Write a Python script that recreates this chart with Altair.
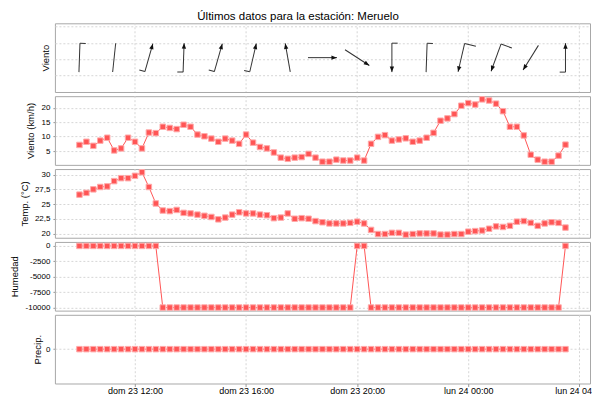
import altair as alt
import pandas as pd

# ---------------- data ----------------
times = pd.date_range("2023-07-23 10:00", "2023-07-24 03:30", freq="15min")
time_str = list(times.strftime("%Y-%m-%dT%H:%M:%S"))

wind_kmh = [7.1, 8.2, 6.8, 8.6, 9.6, 5.2, 5.9, 9.6, 8.2, 5.9,
            11.4, 11.2, 13.4, 13.0, 12.6, 14.1, 13.4, 10.7, 10.1, 9.3,
            8.2, 9.3, 8.6, 7.5, 10.7, 7.9, 6.4, 5.9, 4.5, 2.7,
            2.3, 2.7, 2.9, 4.0, 2.7, 1.3, 1.3, 2.0, 1.7, 1.7,
            2.7, 1.7, 7.5, 9.9, 10.5, 8.6, 9.0, 9.4, 8.2, 8.6,
            9.6, 11.3, 15.5, 16.3, 17.8, 20.7, 21.6, 21.1, 22.9, 22.5,
            21.4, 18.8, 13.4, 13.4, 10.4, 3.7, 2.0, 1.3, 1.3, 3.4, 7.2]

temp_c = [26.6, 26.9, 27.5, 27.9, 28.0, 28.9, 29.4, 29.4, 29.8, 30.4,
          27.9, 25.1, 23.9, 23.8, 24.0, 23.5, 23.4, 23.2, 23.0, 22.8,
          22.4, 22.7, 23.2, 23.6, 23.4, 23.4, 23.2, 23.1, 22.6, 22.7,
          23.4, 22.5, 22.6, 22.5, 22.1, 21.9, 21.7, 21.7, 21.7, 21.8,
          22.0, 21.7, 20.6, 19.9, 19.9, 20.1, 20.1, 19.8, 19.9, 20.0,
          20.0, 20.0, 19.8, 19.8, 19.9, 19.9, 20.3, 20.4, 20.5, 20.8,
          21.2, 21.1, 21.3, 22.0, 22.1, 21.8, 21.3, 21.7, 21.9, 21.8, 21.0]

humidity = [0] * 12 + [-10000] * 28 + [0] * 2 + [-10000] * 28 + [0]
precip = [0] * 71

# wind vanes (every 5th sample): direction the arrow points (deg, clockwise from up)
vane_idx = [0, 5, 10, 15, 20, 25, 30, 35, 40, 45, 50, 55, 60, 65, 70]
vane_dir = [182, 186, 16, 2, 16, 13, 350, 90, 123, 180, 182, 193, 200, 212, 0]
vane_head = [0, 0, 1, 1, 1, 1, 1, 1, 1, 1, 0, 1, 1, 1, 1]
vane_barb = [1, 0, 1, 1, 1, 1, 0, 0, 0, 1, 1, 2, 2, 0, 1]
vane_grid = [1, 2, 3, 4]

# x tick / grid positions
tick_times = ["2023-07-23T12:00:00", "2023-07-23T16:00:00", "2023-07-23T20:00:00",
              "2023-07-24T00:00:00", "2023-07-24T04:00:00"]

df = pd.DataFrame({"t": time_str, "wind": wind_kmh, "temp": temp_c,
                   "hum": humidity, "prec": precip})
vane = pd.DataFrame({"t": [time_str[i] for i in vane_idx], "dir": vane_dir,
                     "head": vane_head, "barb": vane_barb})
grid_df = pd.DataFrame({"g": vane_grid})
ticks_df = pd.DataFrame({"t": tick_times})

# ---------------- style ----------------
FONT = "Liberation Sans"
RED = "#ff5555"
GRID = "#d6d6d6"
W, H = 536, 68.8
ARROW = 841  # symbol size -> 29 px long

x_dom = [alt.DateTime(year=2023, month=7, date=23, hours=9, minutes=7),
         alt.DateTime(year=2023, month=7, date=24, hours=4, minutes=23)]
x_ticks = [alt.DateTime(year=2023, month=7, date=23, hours=12),
           alt.DateTime(year=2023, month=7, date=23, hours=16),
           alt.DateTime(year=2023, month=7, date=23, hours=20),
           alt.DateTime(year=2023, month=7, date=24, hours=0),
           alt.DateTime(year=2023, month=7, date=24, hours=4)]
day_expr = ("['dom','lun','mar','mié','jue','vie','sáb'][day(datum.value)] + ' ' + "
            "timeFormat(datum.value, '%d %H:%M')")


def xenc(show):
    if not show:
        return alt.X("t:T", scale=alt.Scale(domain=x_dom), axis=None)
    return alt.X("t:T", scale=alt.Scale(domain=x_dom),
                 axis=alt.Axis(title=None, grid=True, values=x_ticks, labelExpr=day_expr,
                               labelFontSize=9, labelPadding=0, tickSize=3))


def vgrid():
    return alt.Chart(ticks_df).mark_rule(color=GRID, strokeDash=[2, 2], strokeWidth=1).encode(
        x=xenc(False))


def yaxis(title, values, label_expr, title_x, labels=True):
    return alt.Axis(title=title, values=values, labelExpr=label_expr, labels=labels,
                    ticks=labels, titleX=title_x, titleY=H / 2, titleBaseline="middle")


def series(field, title, domain, values, label_expr, title_x, show_x=False):
    base = alt.Chart(df).encode(
        x=xenc(show_x),
        y=alt.Y(f"{field}:Q", scale=alt.Scale(domain=domain, nice=False, zero=False),
                axis=yaxis(title, values, label_expr, title_x)))
    line = base.mark_line(color=RED, strokeWidth=1)
    pts = base.mark_square(size=30, color=RED, opacity=1, stroke="#ffaaaa", strokeWidth=1)
    layers = [line, pts] if show_x else [vgrid(), line, pts]
    return alt.layer(*layers).properties(width=W, height=H)


# panel 1: wind vanes
grid_layer = alt.Chart(grid_df).mark_point(opacity=0).encode(
    y=alt.Y("g:Q", scale=alt.Scale(domain=[0, 4.2], nice=False, zero=False),
            axis=yaxis("Viento", vane_grid, "''", -9, labels=False)))
vbase = alt.Chart(vane).encode(x=xenc(False), angle=alt.Angle("dir:Q", scale=None))
shaft = vbase.mark_point(shape="M0,-1L0,1", filled=False, size=ARROW, color="#333333",
                         strokeWidth=1, opacity=1)
head = vbase.transform_filter("datum.head == 1").mark_point(
    shape="M0,-1L-0.15,-0.62L0.15,-0.62Z", filled=True, size=ARROW, color="#111111", opacity=1)
barb_s = vbase.transform_filter("datum.barb == 1").mark_point(
    shape="M0,1L-0.4,1", filled=False, size=ARROW, color="#333333", strokeWidth=1, opacity=1)
barb_l = vbase.transform_filter("datum.barb == 2").mark_point(
    shape="M0,1L-0.8,1", filled=False, size=ARROW, color="#333333", strokeWidth=1, opacity=1)
vane_panel = alt.layer(vgrid(), grid_layer, shaft, head, barb_s, barb_l).properties(
    width=W, height=H)

wind_panel = series("wind", "Viento (km/h)", [0.2, 24.0], [5, 10, 15, 20],
                    "toString(datum.value)", -24)
temp_panel = series("temp", "Temp. (°C)", [19.27, 30.95], [20, 22.5, 25, 27.5, 30],
                    "replace(toString(datum.value), '.', ',')", -30)
hum_panel = series("hum", "Humedad", [-10500, 650], [0, -2500, -5000, -7500, -10000],
                   "toString(datum.value)", -40)
prec_panel = series("prec", "Precip.", [-1, 1], [0], "toString(datum.value)", -17,
                    show_x=True)

chart = alt.vconcat(
    vane_panel, wind_panel, temp_panel, hum_panel, prec_panel, spacing=4, bounds="flush",
    title=alt.TitleParams("Últimos datos para la estación: Meruelo", anchor="middle",
                          dx=-9, offset=0),
).properties(
    padding={"left": 1, "top": 2, "right": -13, "bottom": 0}
).configure_view(
    stroke="#a8a8a8", strokeWidth=1
).configure_axis(
    gridColor=GRID, gridDash=[2, 2], gridWidth=1, domain=False,
    labelFont=FONT, titleFont=FONT, labelFontSize=8, titleFontSize=9.5,
    titleFontWeight="normal", labelColor="black", titleColor="black",
    tickColor="#999999", tickSize=2, labelPadding=3
).configure_title(
    font=FONT, fontSize=11.5, fontWeight="normal", color="black"
)

chart.save("out.html", embed_options={"renderer": "svg", "actions": False})
